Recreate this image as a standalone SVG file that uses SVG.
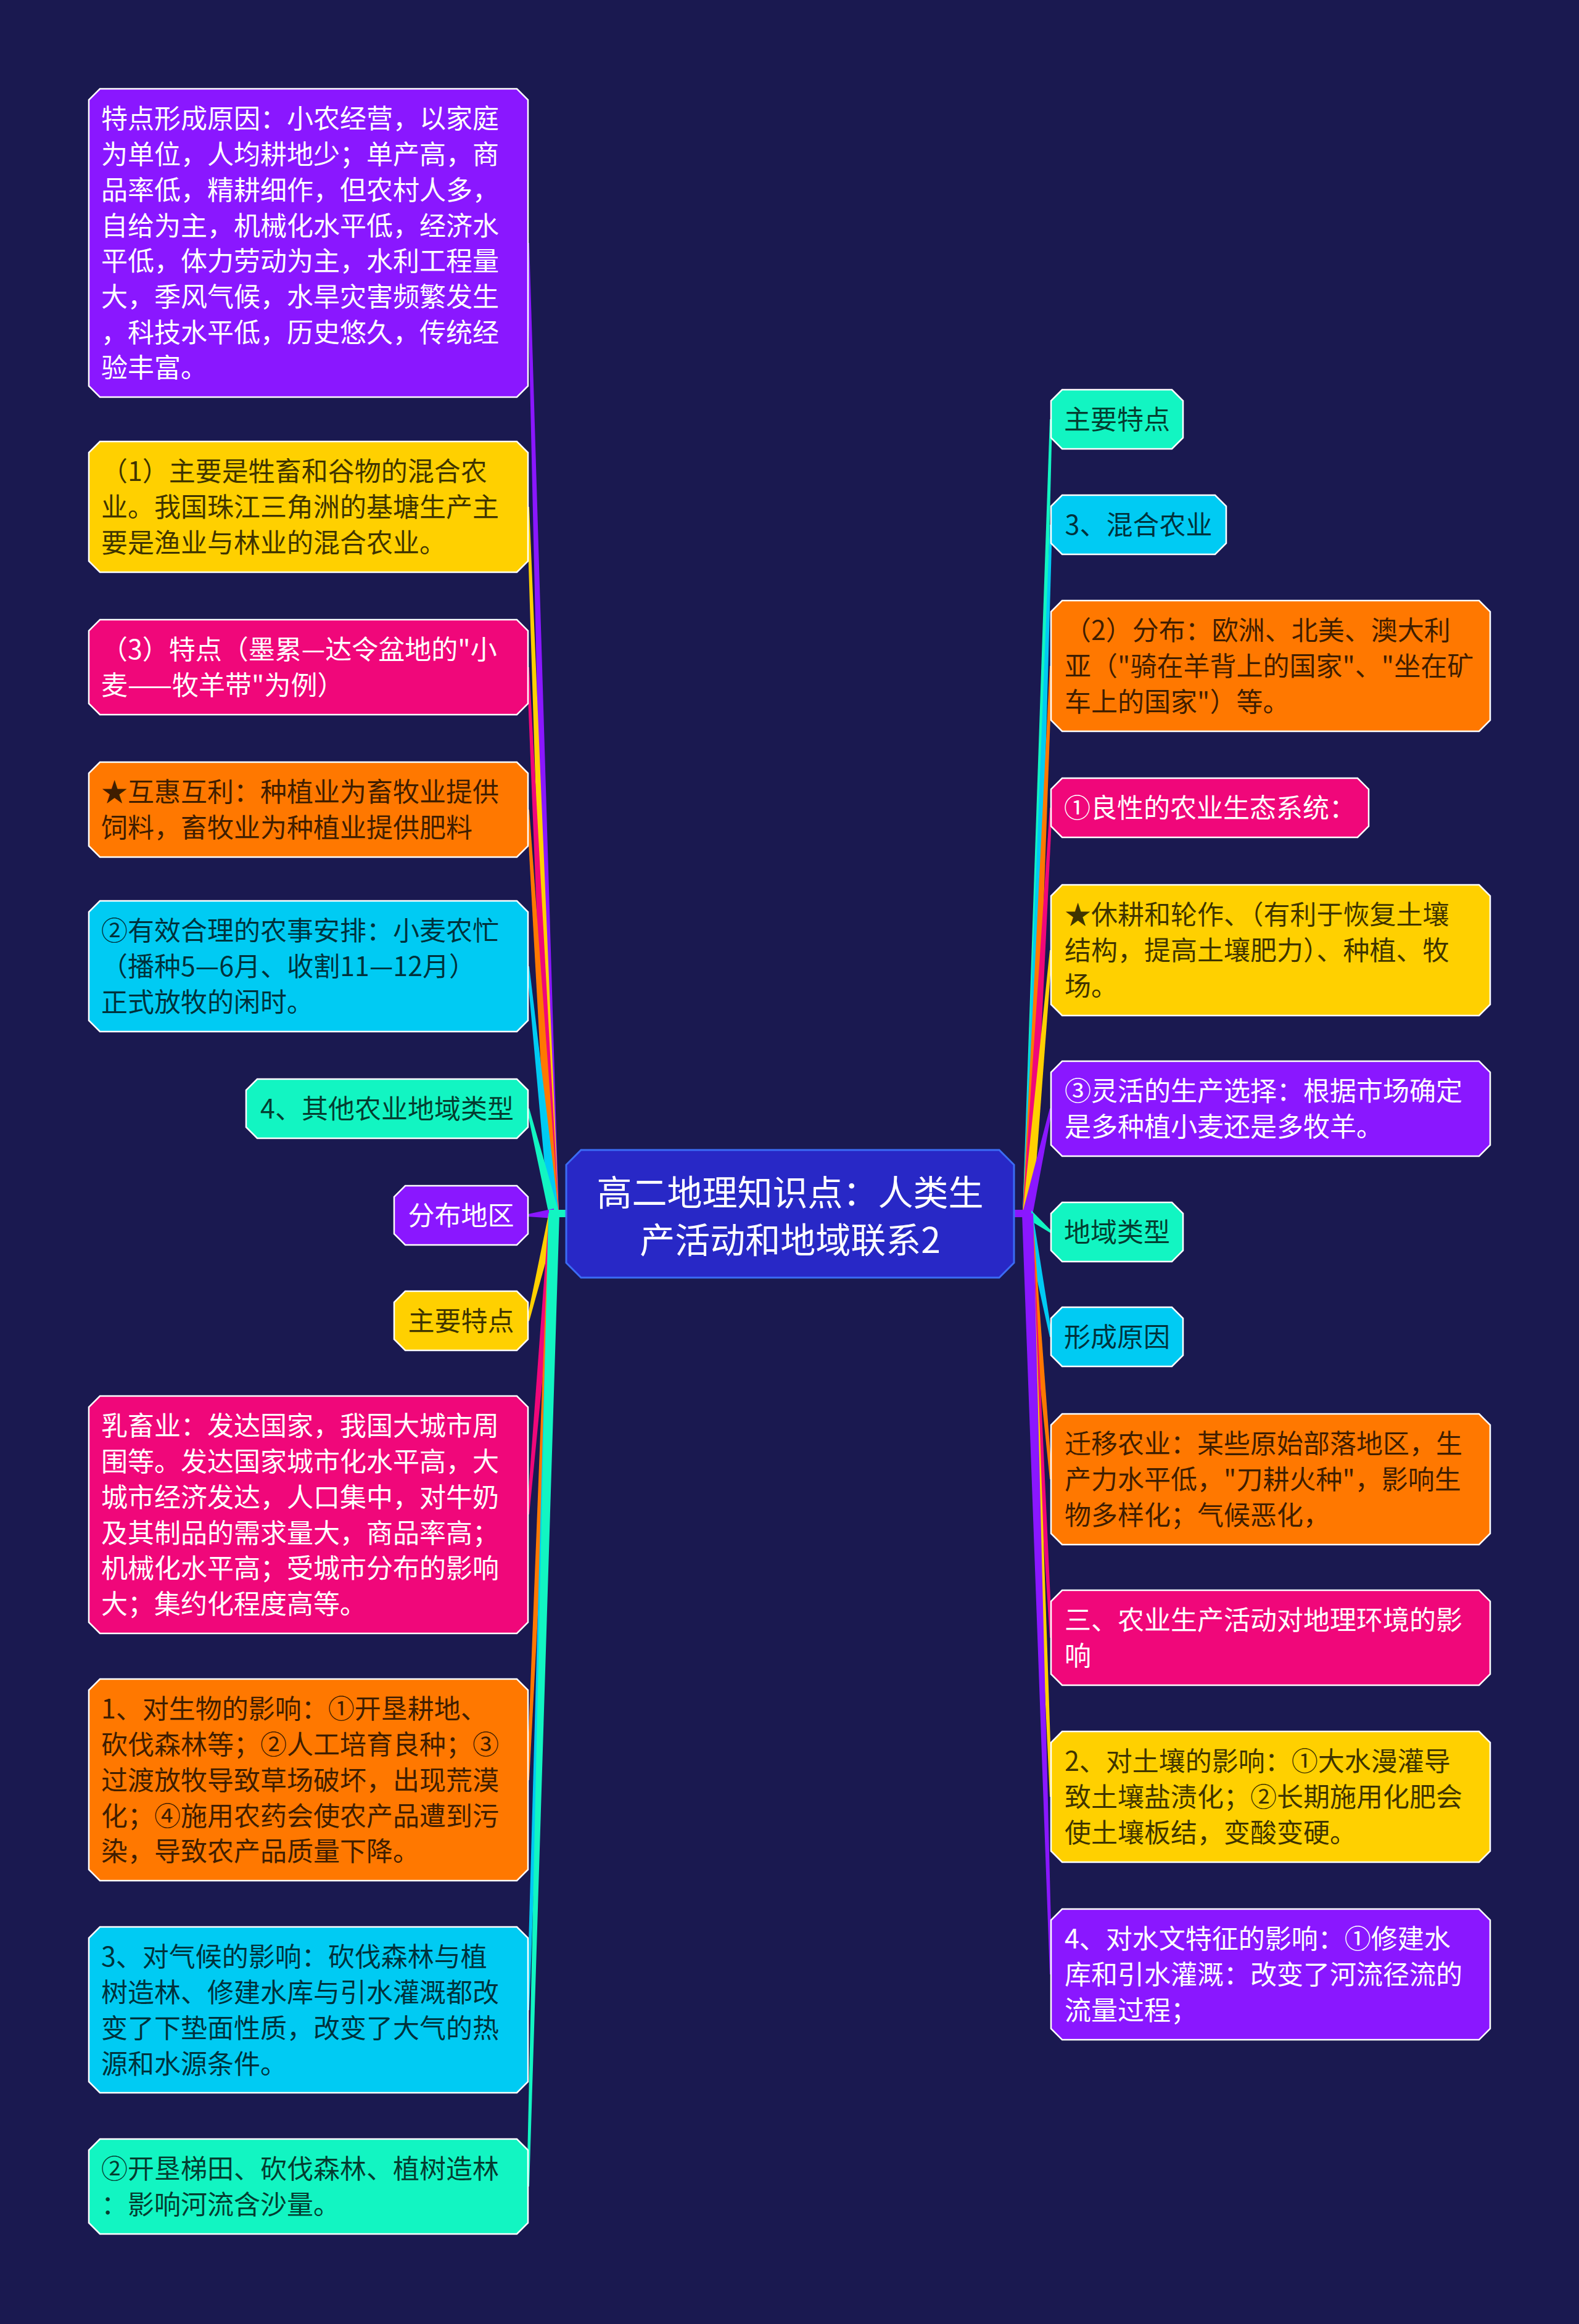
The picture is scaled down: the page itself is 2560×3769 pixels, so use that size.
<svg xmlns="http://www.w3.org/2000/svg" width="2560" height="3769" viewBox="0 0 2560 3769">
<style>
.nd{stroke:#ffffff;stroke-width:2.5}
.t{font-family:"Noto Sans CJK SC","Noto Sans",sans-serif;font-size:43px}
.w{fill:#ffffff}
.d{fill:#000000;fill-opacity:0.77}
.c{text-anchor:middle}
.pu{fill:#8a17ff}.ye{fill:#ffd000}.pk{fill:#f0077a}.or{fill:#ff7800}.cy{fill:#00cbf3}.te{fill:#12f5c2}
</style>
<rect x="0" y="0" width="2560" height="3769" fill="#1a1950"/>
<g id="connectors">
<path class="pu" d="M890,1968 L906,1968 L858,394 L854,394 Z"/>
<path class="ye" d="M890,1968 L906,1968 L858,822 L854,822 Z"/>
<path class="pk" d="M890,1968 L906,1968 L858,1082 L854,1082 Z"/>
<path class="or" d="M890,1968 L906,1968 L858,1313 L854,1313 Z"/>
<path class="cy" d="M890,1968 L906,1968 L858,1567 L854,1567 Z"/>
<path class="te" d="M890,1970 L906,1966 L858,1797.5 L854,1798.5 Z"/>
<path class="pu" d="M898,1960 L898,1976 L856,1973 L856,1969 Z"/>
<path class="ye" d="M890,1966 L906,1970 L858,2142.5 L854,2141.5 Z"/>
<path class="pk" d="M890,1968 L906,1968 L858,2456 L854,2456 Z"/>
<path class="or" d="M890,1968 L906,1968 L858,2887 L854,2887 Z"/>
<path class="cy" d="M890,1968 L906,1968 L858,3260 L854,3260 Z"/>
<path class="te" d="M889,1968 L907,1968 L858,3546 L854,3546 Z"/>
<rect class="te" x="890" y="1962" width="30" height="12"/>
<path class="te" d="M1658,1968 L1674,1968 L1706,680 L1702,680 Z"/>
<path class="cy" d="M1658,1968 L1674,1968 L1706,851 L1702,851 Z"/>
<path class="or" d="M1658,1968 L1674,1968 L1706,1080 L1702,1080 Z"/>
<path class="pk" d="M1658,1968 L1674,1968 L1706,1310 L1702,1310 Z"/>
<path class="ye" d="M1658,1968 L1674,1968 L1706,1541 L1702,1541 Z"/>
<path class="pu" d="M1658,1966 L1674,1970 L1706,1798.5 L1702,1797.5 Z"/>
<path class="te" d="M1661,1974 L1671,1962 L1705,1996.5 L1703,1999.5 Z"/>
<path class="cy" d="M1658,1970 L1674,1966 L1706,2167.6 L1702,2168.4 Z"/>
<path class="or" d="M1658,1968 L1674,1968 L1706,2399 L1702,2399 Z"/>
<path class="pk" d="M1658,1968 L1674,1968 L1706,2656 L1702,2656 Z"/>
<path class="ye" d="M1658,1968 L1674,1968 L1706,2914 L1702,2914 Z"/>
<path class="pu" d="M1657,1968 L1675,1968 L1706,3202 L1702,3202 Z"/>
<rect class="pu" x="1642" y="1962" width="30" height="12"/>
</g>
<g id="center">
<path d="M942,1865 H1620 L1644,1889 V2048 L1620,2072 H942 L918,2048 V1889 Z" fill="#2828c6" stroke="#3b6cf4" stroke-width="3"/>
<text class="t w c" x="1281" y="1955" style="font-size:57px">高二地理知识点：人类生</text>
<text class="t w c" x="1281" y="2032" style="font-size:57px">产活动和地域联系2</text>
</g>
<g id="L1">
<path class="nd pu" d="M162,144 H838 L856,162 V626 L838,644 H162 L144,626 V162 Z"/>
<text class="t w" x="164" y="208.4"><tspan x="164">特点形成原因：小农经营，以家庭</tspan><tspan x="164" dy="57.7">为单位，人均耕地少；单产高，商</tspan><tspan x="164" dy="57.7">品率低，精耕细作，但农村人多，</tspan><tspan x="164" dy="57.7">自给为主，机械化水平低，经济水</tspan><tspan x="164" dy="57.7">平低，体力劳动为主，水利工程量</tspan><tspan x="164" dy="57.7">大，季风气候，水旱灾害频繁发生</tspan><tspan x="164" dy="57.7">，科技水平低，历史悠久，传统经</tspan><tspan x="164" dy="57.7">验丰富。</tspan></text>
</g>
<g id="L2">
<path class="nd ye" d="M162,716 H838 L856,734 V910 L838,928 H162 L144,910 V734 Z"/>
<text class="t d" x="164" y="780.4"><tspan x="164">（1）主要是牲畜和谷物的混合农</tspan><tspan x="164" dy="57.7">业。我国珠江三角洲的基塘生产主</tspan><tspan x="164" dy="57.7">要是渔业与林业的混合农业。</tspan></text>
</g>
<g id="L3">
<path class="nd pk" d="M162,1005 H838 L856,1023 V1141 L838,1159 H162 L144,1141 V1023 Z"/>
<text class="t w" x="164" y="1069.4"><tspan x="164">（3）特点（墨累—达令盆地的"小</tspan><tspan x="164" dy="57.7">麦——牧羊带"为例）</tspan></text>
</g>
<g id="L4">
<path class="nd or" d="M162,1236 H838 L856,1254 V1372 L838,1390 H162 L144,1372 V1254 Z"/>
<text class="t d" x="164" y="1300.4"><tspan x="164">★互惠互利：种植业为畜牧业提供</tspan><tspan x="164" dy="57.7">饲料，畜牧业为种植业提供肥料</tspan></text>
</g>
<g id="L5">
<path class="nd cy" d="M162,1461 H838 L856,1479 V1655 L838,1673 H162 L144,1655 V1479 Z"/>
<text class="t d" x="164" y="1525.4"><tspan x="164">②有效合理的农事安排：小麦农忙</tspan><tspan x="164" dy="57.7">（播种5—6月、收割11—12月）</tspan><tspan x="164" dy="57.7">正式放牧的闲时。</tspan></text>
</g>
<g id="L6">
<path class="nd te" d="M417,1750 H838 L856,1768 V1828 L838,1846 H417 L399,1828 V1768 Z"/>
<text class="t d c" x="627.5" y="1814.4">4、其他农业地域类型</text>
</g>
<g id="L7">
<path class="nd pu" d="M657,1923 H838 L856,1941 V2001 L838,2019 H657 L639,2001 V1941 Z"/>
<text class="t w c" x="747.5" y="1987.4">分布地区</text>
</g>
<g id="L8">
<path class="nd ye" d="M657,2094 H838 L856,2112 V2172 L838,2190 H657 L639,2172 V2112 Z"/>
<text class="t d c" x="747.5" y="2158.4">主要特点</text>
</g>
<g id="L9">
<path class="nd pk" d="M162,2264 H838 L856,2282 V2631 L838,2649 H162 L144,2631 V2282 Z"/>
<text class="t w" x="164" y="2328.4"><tspan x="164">乳畜业：发达国家，我国大城市周</tspan><tspan x="164" dy="57.7">围等。发达国家城市化水平高，大</tspan><tspan x="164" dy="57.7">城市经济发达，人口集中，对牛奶</tspan><tspan x="164" dy="57.7">及其制品的需求量大，商品率高；</tspan><tspan x="164" dy="57.7">机械化水平高；受城市分布的影响</tspan><tspan x="164" dy="57.7">大；集约化程度高等。</tspan></text>
</g>
<g id="L10">
<path class="nd or" d="M162,2723 H838 L856,2741 V3032 L838,3050 H162 L144,3032 V2741 Z"/>
<text class="t d" x="164" y="2787.4"><tspan x="164">1、对生物的影响：①开垦耕地、</tspan><tspan x="164" dy="57.7">砍伐森林等；②人工培育良种；③</tspan><tspan x="164" dy="57.7">过渡放牧导致草场破坏，出现荒漠</tspan><tspan x="164" dy="57.7">化；④施用农药会使农产品遭到污</tspan><tspan x="164" dy="57.7">染，导致农产品质量下降。</tspan></text>
</g>
<g id="L11">
<path class="nd cy" d="M162,3125 H838 L856,3143 V3376 L838,3394 H162 L144,3376 V3143 Z"/>
<text class="t d" x="164" y="3189.4"><tspan x="164">3、对气候的影响：砍伐森林与植</tspan><tspan x="164" dy="57.7">树造林、修建水库与引水灌溉都改</tspan><tspan x="164" dy="57.7">变了下垫面性质，改变了大气的热</tspan><tspan x="164" dy="57.7">源和水源条件。</tspan></text>
</g>
<g id="L12">
<path class="nd te" d="M162,3469 H838 L856,3487 V3605 L838,3623 H162 L144,3605 V3487 Z"/>
<text class="t d" x="164" y="3533.4"><tspan x="164">②开垦梯田、砍伐森林、植树造林</tspan><tspan x="164" dy="57.7">：影响河流含沙量。</tspan></text>
</g>
<g id="R1">
<path class="nd te" d="M1722,632 H1900 L1918,650 V710 L1900,728 H1722 L1704,710 V650 Z"/>
<text class="t d c" x="1811" y="696.4">主要特点</text>
</g>
<g id="R2">
<path class="nd cy" d="M1722,803 H1970 L1988,821 V881 L1970,899 H1722 L1704,881 V821 Z"/>
<text class="t d c" x="1846" y="867.4">3、混合农业</text>
</g>
<g id="R3">
<path class="nd or" d="M1722,974 H2398 L2416,992 V1168 L2398,1186 H1722 L1704,1168 V992 Z"/>
<text class="t d" x="1726" y="1038.4"><tspan x="1726">（2）分布：欧洲、北美、澳大利</tspan><tspan x="1726" dy="57.7">亚（"骑在羊背上的国家"、"坐在矿</tspan><tspan x="1726" dy="57.7">车上的国家"）等。</tspan></text>
</g>
<g id="R4">
<path class="nd pk" d="M1722,1262 H2201 L2219,1280 V1340 L2201,1358 H1722 L1704,1340 V1280 Z"/>
<text class="t w c" x="1961.5" y="1326.4">①良性的农业生态系统：</text>
</g>
<g id="R5">
<path class="nd ye" d="M1722,1435 H2398 L2416,1453 V1629 L2398,1647 H1722 L1704,1629 V1453 Z"/>
<text class="t d" x="1726" y="1499.4"><tspan x="1726">★休耕和轮作、（有利于恢复土壤</tspan><tspan x="1726" dy="57.7">结构，提高土壤肥力）、种植、牧</tspan><tspan x="1726" dy="57.7">场。</tspan></text>
</g>
<g id="R6">
<path class="nd pu" d="M1722,1721 H2398 L2416,1739 V1857 L2398,1875 H1722 L1704,1857 V1739 Z"/>
<text class="t w" x="1726" y="1785.4"><tspan x="1726">③灵活的生产选择：根据市场确定</tspan><tspan x="1726" dy="57.7">是多种植小麦还是多牧羊。</tspan></text>
</g>
<g id="R7">
<path class="nd te" d="M1722,1950 H1900 L1918,1968 V2028 L1900,2046 H1722 L1704,2028 V1968 Z"/>
<text class="t d c" x="1811" y="2014.4">地域类型</text>
</g>
<g id="R8">
<path class="nd cy" d="M1722,2120 H1900 L1918,2138 V2198 L1900,2216 H1722 L1704,2198 V2138 Z"/>
<text class="t d c" x="1811" y="2184.4">形成原因</text>
</g>
<g id="R9">
<path class="nd or" d="M1722,2293 H2398 L2416,2311 V2487 L2398,2505 H1722 L1704,2487 V2311 Z"/>
<text class="t d" x="1726" y="2357.4"><tspan x="1726">迁移农业：某些原始部落地区，生</tspan><tspan x="1726" dy="57.7">产力水平低，"刀耕火种"，影响生</tspan><tspan x="1726" dy="57.7">物多样化；气候恶化，</tspan></text>
</g>
<g id="R10">
<path class="nd pk" d="M1722,2579 H2398 L2416,2597 V2715 L2398,2733 H1722 L1704,2715 V2597 Z"/>
<text class="t w" x="1726" y="2643.4"><tspan x="1726">三、农业生产活动对地理环境的影</tspan><tspan x="1726" dy="57.7">响</tspan></text>
</g>
<g id="R11">
<path class="nd ye" d="M1722,2808 H2398 L2416,2826 V3002 L2398,3020 H1722 L1704,3002 V2826 Z"/>
<text class="t d" x="1726" y="2872.4"><tspan x="1726">2、对土壤的影响：①大水漫灌导</tspan><tspan x="1726" dy="57.7">致土壤盐渍化；②长期施用化肥会</tspan><tspan x="1726" dy="57.7">使土壤板结，变酸变硬。</tspan></text>
</g>
<g id="R12">
<path class="nd pu" d="M1722,3096 H2398 L2416,3114 V3290 L2398,3308 H1722 L1704,3290 V3114 Z"/>
<text class="t w" x="1726" y="3160.4"><tspan x="1726">4、对水文特征的影响：①修建水</tspan><tspan x="1726" dy="57.7">库和引水灌溉：改变了河流径流的</tspan><tspan x="1726" dy="57.7">流量过程；</tspan></text>
</g>
</svg>
